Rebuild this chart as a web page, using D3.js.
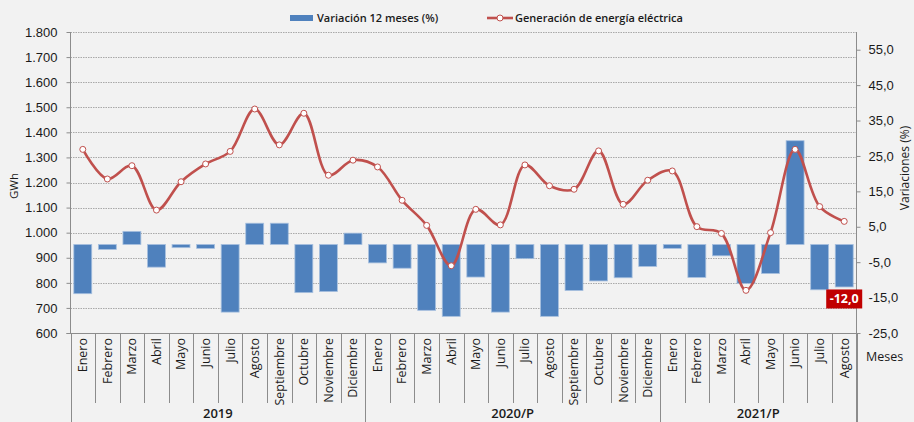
<!DOCTYPE html>
<html><head><meta charset="utf-8">
<script src="https://cdn.jsdelivr.net/npm/d3@7"></script>
<style>
html,body{margin:0;padding:0;background:#f2f2f2;}
svg{display:block;font-family:"Open Sans","Noto Sans",sans-serif;}
</style></head>
<body>
<svg id="chart" width="914" height="422"></svg>
<script>
const monthNames = ["Enero","Febrero","Marzo","Abril","Mayo","Junio","Julio","Agosto","Septiembre","Octubre","Noviembre","Diciembre"];
const months = [...monthNames, ...monthNames, ...monthNames.slice(0,8)];
const years = ["2019","2020/P","2021/P"];
const yearCounts = [12,12,8];
const generacion = [1332,1214,1267,1090,1203,1274,1324,1493,1350,1476,1229,1289,
                    1262,1129,1029,868,1093,1031,1270,1187,1173,1326,1113,1209,
                    1246,1024,997,770,1000,1332,1104,1045];
const variacion = [-13.9,-1.4,3.7,-6.4,-0.9,-1.1,-19.1,6.0,6.0,-13.6,-13.3,3.2,
                   -5.2,-6.7,-18.6,-20.3,-9.2,-19.1,-4.0,-20.3,-13.0,-10.3,-9.4,-6.2,
                   -1.1,-9.3,-3.2,-11.0,-8.2,29.3,-12.8,-12.0];
const leftTicks = d3.range(600,1801,100);
const rightTicks = d3.range(-25,56,10);
const seriesNames = ["Variación 12 meses (%)","Generación de energía eléctrica"];

const svg = d3.select("#chart");
const W = 914, H = 422;
const L = 70.5, R = 856.5, T = 32, B = 333;
const textCol = "#1a1a1a", axisCol = "#8c8c8c";

svg.append("rect").attr("width",W).attr("height",H).attr("fill","#f2f2f2");

const idx = d3.range(months.length);
const x = d3.scaleBand().domain(idx).range([L,R]).padding(0);
const yL = d3.scaleLinear().domain([600,1800]).range([B,T]);
const yR = d3.scaleLinear().domain([-25,60]).range([B,T]);

// gridlines
svg.append("g").selectAll("line").data(leftTicks.filter(d=>d>600)).join("line")
  .attr("x1",L).attr("x2",R)
  .attr("y1",d=>Math.round(yL(d))+0.5).attr("y2",d=>Math.round(yL(d))+0.5)
  .attr("stroke","#a9a9a9").attr("stroke-width",1).attr("stroke-dasharray","1.5,1");

// bars
const bw = x.bandwidth()*0.73;
svg.append("g").selectAll("rect").data(idx).join("rect")
  .attr("x",i=>x(i)+(x.bandwidth()-bw)/2)
  .attr("width",bw)
  .attr("y",i=>Math.min(yR(0),yR(variacion[i])))
  .attr("height",i=>Math.abs(yR(variacion[i])-yR(0)))
  .attr("fill","#4f81bd").attr("stroke","#a7c0df").attr("stroke-width",0.8);

// line
const line = d3.line().x(i=>x(i)+x.bandwidth()/2).y(i=>yL(generacion[i])).curve(d3.curveCatmullRom.alpha(0.5));
svg.append("path").datum(idx).attr("d",line).attr("fill","none")
  .attr("stroke","#c0504d").attr("stroke-width",2.6);
svg.append("g").selectAll("circle").data(idx).join("circle")
  .attr("cx",i=>x(i)+x.bandwidth()/2).attr("cy",i=>yL(generacion[i])).attr("r",3)
  .attr("fill","#fff").attr("stroke","#c0504d").attr("stroke-width",1);

// left axis
const fmtL = d => d3.format(",")(d).replace(/,/g,".");
const gL = svg.append("g").attr("transform",`translate(${L},0)`)
  .call(d3.axisLeft(yL).tickValues(leftTicks).tickFormat(fmtL).tickSize(4).tickPadding(9));
gL.select(".domain").attr("stroke",axisCol).attr("d",`M-0,${T}V${B}`);
gL.selectAll(".tick line").attr("stroke",axisCol);
gL.selectAll(".tick text").attr("fill",textCol).attr("font-size",13).attr("font-weight",500);

// right axis
const fmtR = d => d.toFixed(1).replace(".",",");
const gR = svg.append("g").attr("transform",`translate(${R},0)`)
  .call(d3.axisRight(yR).tickValues(rightTicks).tickFormat(fmtR).tickSize(4).tickPadding(8));
gR.select(".domain").attr("stroke",axisCol).attr("d",`M0,${T}V${H}`);
gR.selectAll(".tick line").attr("stroke",axisCol);
gR.selectAll(".tick text").attr("fill",textCol).attr("font-size",13).attr("font-weight",500);

// bottom axis line
svg.append("line").attr("x1",L-4).attr("x2",R).attr("y1",B+0.5).attr("y2",B+0.5).attr("stroke",axisCol);

// category separators
const bounds = d3.range(months.length+1);
let yearStarts = [0]; yearCounts.forEach((c,k)=>yearStarts.push(yearStarts[k]+c));
svg.append("g").selectAll("line").data(bounds).join("line")
  .attr("x1",b=>Math.round(b<months.length?x(b):R)+0.5)
  .attr("x2",b=>Math.round(b<months.length?x(b):R)+0.5)
  .attr("y1",B).attr("y2",b=>yearStarts.includes(b)?H:403)
  .attr("stroke",axisCol).attr("stroke-width",1);

// month labels
svg.append("g").selectAll("text").data(idx).join("text")
  .attr("transform",i=>`translate(${x(i)+x.bandwidth()/2},${B+5}) rotate(-90)`)
  .attr("text-anchor","end").attr("dy","0.35em")
  .attr("font-size",12.5).attr("fill",textCol).text(i=>months[i]);

// year labels
svg.append("g").selectAll("text").data(years).join("text")
  .attr("x",(d,k)=>{const a=x(yearStarts[k]); const e=yearStarts[k+1]<months.length?x(yearStarts[k+1]):R; return (a+e)/2;})
  .attr("y",418).attr("text-anchor","middle").attr("font-size",13).attr("font-weight",600)
  .attr("fill",textCol).text(d=>d);

// axis titles
svg.append("text").attr("transform","translate(18,186) rotate(-90)").attr("text-anchor","middle")
  .attr("font-size",11.5).attr("fill",textCol).text("GWh");
svg.append("text").attr("transform","translate(909,168) rotate(-90)").attr("text-anchor","middle")
  .attr("font-size",12).attr("fill",textCol).text("Variaciones (%)");
svg.append("text").attr("x",866).attr("y",361).attr("font-size",12.5).attr("font-weight",500)
  .attr("fill",textCol).text("Meses");

// data label for last bar
const li = months.length-1;
const lx = x(li)+x.bandwidth()/2;
const ly = yR(variacion[li])+2.5;
svg.append("rect").attr("x",lx-18).attr("y",ly).attr("width",36).attr("height",19).attr("fill","#c00000");
svg.append("text").attr("x",lx).attr("y",ly+14).attr("text-anchor","middle")
  .attr("font-size",12.5).attr("font-weight",700).attr("fill","#fff").text(fmtR(variacion[li]));

// legend
const lg = svg.append("g");
lg.append("rect").attr("x",290).attr("y",15).attr("width",23).attr("height",6).attr("fill","#4f81bd");
lg.append("text").attr("x",317).attr("y",21.5).attr("font-size",11).attr("font-weight",600)
  .attr("fill",textCol).text(seriesNames[0]);
lg.append("line").attr("x1",487).attr("x2",513).attr("y1",18).attr("y2",18).attr("stroke","#c0504d").attr("stroke-width",2.6);
lg.append("circle").attr("cx",500).attr("cy",18).attr("r",3).attr("fill","#fff").attr("stroke","#c0504d");
lg.append("text").attr("x",515).attr("y",21.5).attr("font-size",11).attr("font-weight",600)
  .attr("fill",textCol).text(seriesNames[1]);
</script>
</body></html>
